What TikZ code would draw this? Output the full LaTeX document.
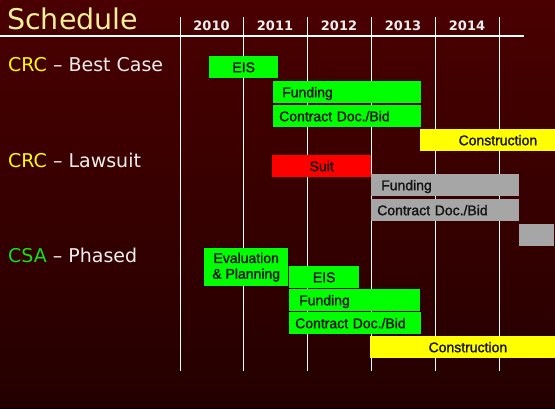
\documentclass[tikz,border=0pt]{standalone}
\usepackage{fontspec}
\setmainfont{DejaVu Sans}
\newfontfamily\barfont{Liberation Sans}[FakeBold=1.5]

\definecolor{bgTop}{RGB}{74,0,0}
\definecolor{bgBottom}{RGB}{36,0,0}
\definecolor{titleYellow}{RGB}{240,240,150}
\definecolor{projYellow}{RGB}{250,250,0}
\definecolor{projGreen}{RGB}{20,225,20}
\definecolor{headWhite}{RGB}{238,238,238}
\definecolor{barGreen}{RGB}{0,255,0}
\definecolor{barYellow}{RGB}{255,255,0}
\definecolor{barRed}{RGB}{255,0,0}
\definecolor{barGrey}{RGB}{166,166,166}
\definecolor{barText}{RGB}{20,20,20}

\tikzset{
  heading/.style={anchor=base west, inner sep=0pt, text=headWhite, font=\fontsize{19}{21}\selectfont},
  year/.style={inner sep=0pt, text=headWhite, font=\bfseries\fontsize{13}{15}\selectfont},
  bar/.style={anchor=north west, inner sep=0pt, minimum height=22pt, text height=12pt, text depth=2pt,
    text=barText, font=\barfont\fontsize{14}{15.7}\selectfont},
  gridline/.style={white, line width=1pt}
}

\begin{document}
\begin{tikzpicture}[x=1pt, y=-1pt]

	% background
	\shade[top color=bgTop, bottom color=bgBottom] (0,0) rectangle (555,408);
	\fill[black] (0,408) rectangle (555,409);
	\useasboundingbox (0,0) rectangle (555,409);

	% title and time axis
	\node[anchor=base west, inner sep=0pt, text=titleYellow, font=\fontsize{28.5}{30}\selectfont] (title) at (7,30) {Schedule};
	\draw[white, line width=2pt] (0,36) -- (524,36);
	\foreach \x in {180,243.5,307,371,435,499}
		\draw[gridline] (\x,17) -- (\x,371);

	% year labels
	\node[year] (y2010) at (211.5,25.5) {2010};
	\node[year] (y2011) at (275,25.5) {2011};
	\node[year] (y2012) at (339,25.5) {2012};
	\node[year] (y2013) at (403,25.5) {2013};
	\node[year] (y2014) at (467,25.5) {2014};

	% row headings
	\node[heading] (best) at (8,72) {\textcolor{projYellow}{CRC} -- Best Case};
	\node[heading] (suit) at (8,168) {\textcolor{projYellow}{CRC} -- Lawsuit};
	\node[heading] (phased) at (8,263) {\textcolor{projGreen}{CSA} -- Phased};

	% CRC best case
	\node[bar, fill=barGreen, minimum width=69pt] (bestEis) at (209,56) {EIS};
	\node[bar, fill=barGreen, minimum width=148pt, text width=130pt, align=left] (bestFund) at (273,81) {Funding};
	\node[bar, fill=barGreen, minimum width=148pt, text width=136pt, align=left] (bestBid) at (273,105) {Contract Doc./Bid};
	\node[bar, fill=barYellow, minimum width=135pt, text width=125pt, align=right] (bestBuild) at (420,129) {Construction\hspace*{13pt}};

	% CRC lawsuit
	\node[bar, fill=barRed, minimum width=99pt] (lawSuit) at (272,155) {Suit};
	\node[bar, fill=barGrey, minimum width=148pt, text width=128pt, align=left] (lawFund) at (371,174) {Funding};
	\node[bar, fill=barGrey, minimum width=148pt, text width=136pt, align=left] (lawBid) at (371,199) {Contract Doc./Bid};
	\node[bar, fill=barGrey, minimum width=35pt] (lawBuild) at (519,224) {};

	% CSA phased
	\node[bar, fill=barGreen, minimum width=84pt, minimum height=38pt, text height=, text depth=, align=center] (csaEval) at (204,248) {Evaluation\\\& Planning};
	\node[bar, fill=barGreen, minimum width=70pt] (csaEis) at (289,266) {EIS};
	\node[bar, fill=barGreen, minimum width=131pt, text width=111pt, align=left] (csaFund) at (289,289) {Funding};
	\node[bar, fill=barGreen, minimum width=132pt, text width=120pt, align=left] (csaBid) at (289,312) {Contract Doc./Bid};
	\node[bar, fill=barYellow, minimum width=185pt, text width=175pt, align=right] (csaBuild) at (370,336) {Construction\hspace*{43pt}};

\end{tikzpicture}
\end{document}
